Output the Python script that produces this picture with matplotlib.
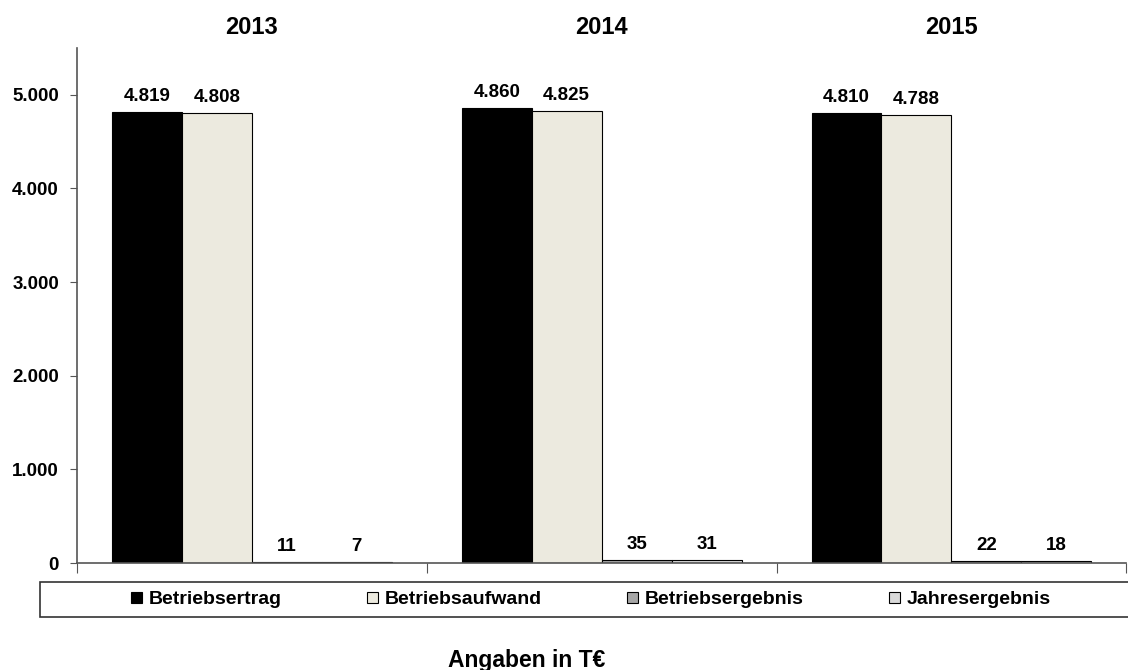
import matplotlib.pyplot as plt
from matplotlib.patches import Patch, Rectangle
import numpy as np

plt.rcParams['font.family'] = ['Liberation Sans', 'DejaVu Sans']
plt.rcParams['font.weight'] = 'bold'

jahre = ["2013", "2014", "2015"]
reihen = ["Betriebsertrag", "Betriebsaufwand", "Betriebsergebnis", "Jahresergebnis"]
betriebsertrag = [4819, 4860, 4810]
betriebsaufwand = [4808, 4825, 4788]
betriebsergebnis = [11, 35, 22]
jahresergebnis = [7, 31, 18]
farben = ["#000000", "#ECEADF", "#A6A6A6", "#D9D9D9"]

werte = [betriebsertrag, betriebsaufwand, betriebsergebnis, jahresergebnis]

fig = plt.figure(figsize=(11.28, 6.7), dpi=100)
ax = fig.add_axes([77 / 1128, 1 - 563 / 670, 1 - 77 / 1128 - 0.0015, (563 - 48) / 670])

x = np.arange(len(jahre))
breite = 0.2
for i, (name, daten) in enumerate(zip(reihen, werte)):
    pos = x + (i - 1.5) * breite
    ax.bar(pos, daten, breite, color=farben[i], edgecolor="black", linewidth=0.8, label=name)
    for p, v in zip(pos, daten):
        txt = f"{v:,}".replace(",", ".")
        ax.annotate(txt, (p, v), xytext=(0, 5), textcoords="offset points",
                    ha="center", va="bottom", fontsize=13.5, fontweight="bold")

ax.set_xlim(-0.5, 2.5)
ax.set_ylim(0, 5500)
ax.set_yticks([0, 1000, 2000, 3000, 4000, 5000])
ax.set_yticklabels(["0", "1.000", "2.000", "3.000", "4.000", "5.000"], fontsize=13.5, fontweight="bold")
ax.set_xticks([-0.5, 0.5, 1.5, 2.5])
ax.set_xticklabels([])
ax.tick_params(axis="y", length=5, color="#555555", pad=8)
ax.tick_params(axis="x", length=7, color="#555555")

for s in ["top", "right"]:
    ax.spines[s].set_visible(False)
for s in ["left", "bottom"]:
    ax.spines[s].set_color("#555555")
    ax.spines[s].set_linewidth(1.2)

# Jahresueberschriften ueber den Gruppen
for xi, j in zip(x, jahre):
    fig.text(ax.transData.transform((xi, 0))[0] / fig.bbox.width, 1 - 27 / 670, j,
             ha="center", va="center", fontsize=17, fontweight="bold")

# Legendenrahmen ueber die ganze Breite
rahmen = Rectangle((40 / 1128, 1 - 617 / 670), 1.0, 35 / 670, transform=fig.transFigure,
                   facecolor="white", edgecolor="#333333", linewidth=1.2)
fig.patches.append(rahmen)

handles = [Patch(facecolor=f, edgecolor="black", linewidth=0.8) for f in farben]
leg = fig.legend(handles, reihen, loc="center", ncol=4,
                 bbox_to_anchor=(591 / 1128, 1 - 600 / 670),
                 fontsize=14, frameon=False, borderaxespad=0, borderpad=0,
                 handlelength=0.55, handleheight=0.55, handletextpad=0.35, columnspacing=4.4)
for t in leg.get_texts():
    t.set_fontweight("bold")

fig.text(527 / 1128, 1 - 660 / 670, "Angaben in T€", ha="center", va="center",
         fontsize=16.5, fontweight="bold")

fig.savefig("out.png", dpi=100)
